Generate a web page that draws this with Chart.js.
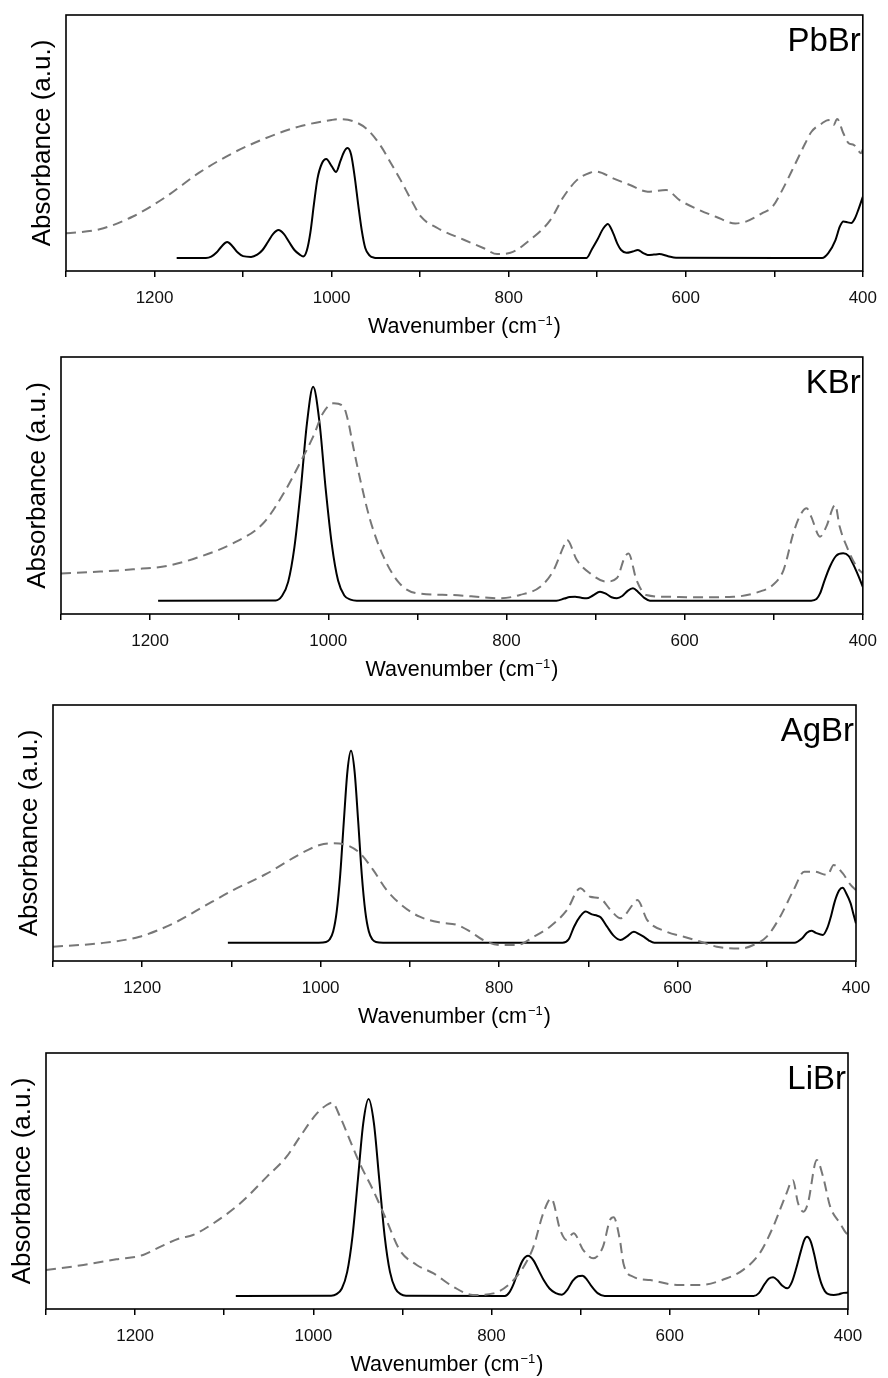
<!DOCTYPE html>
<html>
<head>
<meta charset="utf-8">
<script src="https://cdn.jsdelivr.net/npm/chart.js@4.4.1/dist/chart.umd.min.js"></script>
<style>
  html, body { margin: 0; padding: 0; background: #fff; }
  #wrap { position: relative; width: 888px; height: 1378px; overflow: hidden; }
  #wrap canvas { position: absolute; left: 0; }
</style>
</head>
<body>
<div id="wrap">
  <canvas id="pbbr" width="888" height="342" style="top:0px"></canvas>
  <canvas id="kbr" width="888" height="348" style="top:342px"></canvas>
  <canvas id="agbr" width="888" height="348" style="top:690px"></canvas>
  <canvas id="libr" width="888" height="340" style="top:1038px"></canvas>
</div>
<script>
// IR spectra, [wavenumber (cm-1), absorbance (a.u.)]
// solid = complex, dashed = reference salt

const pbbrSolid = [
  [1175,0.051],[1142,0.051],[1136,0.056],[1130,0.072],[1124,0.097],[1118,0.113],[1112,0.097],[1106,0.072],
  [1100,0.058],[1091,0.055],[1084,0.064],[1078,0.082],[1072,0.113],[1066,0.145],[1060,0.160],[1054,0.145],
  [1048,0.113],[1042,0.082],[1036,0.064],[1032,0.057],[1028,0.080],[1024,0.150],[1020,0.260],[1016,0.360],
  [1011,0.420],[1006,0.4375],[1000,0.410],[995,0.387],[990,0.430],[986,0.465],[982,0.480],[978,0.455],
  [974,0.370],[970,0.260],[966,0.160],[962,0.090],[957,0.060],[952,0.052],[948,0.051],
  [712,0.051],[706,0.085],[700,0.121],[693,0.167],[688,0.184],[682,0.148],[677,0.105],[673,0.082],
  [667,0.071],[660,0.076],[654,0.082],[648,0.070],[643,0.0625],[636,0.064],[630,0.066],[620,0.058],
  [611,0.052],[446,0.051],[439,0.070],[431,0.120],[426,0.173],[422,0.193],[417,0.190],[413,0.1875],
  [409,0.205],[405,0.240],[400,0.290]
];
const pbbrDashed = [
  [1300,0.147],[1262,0.163],[1225,0.212],[1187,0.290],[1150,0.383],[1112,0.460],[1075,0.518],[1037,0.564],
  [1000,0.590],[992,0.593],[974,0.583],[959,0.551],[944,0.486],[933,0.421],[922,0.355],[910,0.277],
  [899,0.212],[880,0.167],[850,0.121],[828,0.089],[813,0.066],[798,0.071],[776,0.121],[753,0.199],
  [738,0.290],[723,0.355],[708,0.384],[701,0.388],[682,0.362],[663,0.336],[643,0.310],[622,0.316],
  [607,0.277],[589,0.245],[566,0.212],[544,0.186],[532,0.193],[514,0.225],[502,0.251],[491,0.316],
  [476,0.421],[465,0.499],[458,0.544],[446,0.577],[439,0.590],[433,0.570],[429,0.594],[422,0.538],
  [416,0.499],[410,0.492],[405,0.470],[402,0.460],[400,0.475]
];

const kbrSolid = [
  [1191,0.052],[1059,0.053],[1052,0.070],[1045,0.125],[1038,0.260],[1031,0.480],[1024,0.740],[1017,0.884],
  [1010,0.750],[1003,0.490],[996,0.270],[989,0.130],[982,0.072],[975,0.056],[968,0.052],
  [744,0.052],[735,0.060],[729,0.066],[723,0.067],[716,0.063],[710,0.061],[703,0.072],[695,0.087],
  [688,0.078],[682,0.065],[676,0.061],[670,0.070],[664,0.090],[658,0.100],[652,0.085],[645,0.062],
  [639,0.052],[458,0.052],[452,0.058],[448,0.080],[443,0.130],[437,0.184],[430,0.226],[422,0.236],
  [416,0.226],[411,0.195],[407,0.165],[403,0.132],[400,0.106]
];
const kbrDashed = [
  [1300,0.158],[1256,0.165],[1219,0.174],[1181,0.187],[1144,0.223],[1107,0.275],[1073,0.353],[1050,0.470],
  [1032,0.586],[1017,0.690],[1006,0.781],[994,0.820],[983,0.807],[978,0.755],[972,0.651],[964,0.521],
  [953,0.366],[938,0.223],[920,0.119],[901,0.081],[863,0.074],[826,0.065],[807,0.061],[785,0.074],
  [762,0.106],[747,0.171],[736,0.262],[732,0.288],[721,0.210],[706,0.158],[688,0.126],[676,0.140],
  [667,0.223],[663,0.235],[654,0.132],[643,0.074],[620,0.067],[583,0.065],[545,0.067],[516,0.087],
  [501,0.113],[489,0.171],[478,0.314],[471,0.379],[463,0.411],[458,0.379],[448,0.301],[441,0.340],
  [431,0.424],[426,0.340],[418,0.262],[407,0.184],[400,0.158]
];

const agbrSolid = [
  [1104,0.0715],[1002,0.0715],[994,0.074],[990,0.084],[986,0.115],[982,0.194],[978,0.341],[974,0.548],
  [970,0.741],[966,0.821],[962,0.741],[958,0.548],[954,0.341],[950,0.194],[946,0.115],[942,0.084],
  [938,0.074],[930,0.0715],[729,0.0715],[722,0.085],[716,0.134],[709,0.175],[703,0.193],[696,0.182],
  [690,0.177],[686,0.170],[679,0.134],[672,0.100],[664,0.082],[657,0.095],[649,0.114],[643,0.105],
  [638,0.095],[632,0.080],[626,0.0715],[469,0.0715],[460,0.090],[455,0.110],[450,0.118],[445,0.110],
  [437,0.102],[432,0.130],[428,0.175],[424,0.230],[419,0.275],[415,0.286],[411,0.265],[406,0.225],
  [403,0.185],[400,0.147]
];
const agbrDashed = [
  [1300,0.056],[1248,0.069],[1203,0.095],[1165,0.147],[1135,0.205],[1098,0.277],[1061,0.340],[1023,0.418],
  [1001,0.453],[986,0.460],[971,0.453],[956,0.421],[941,0.355],[926,0.277],[907,0.212],[889,0.173],
  [866,0.150],[847,0.141],[832,0.114],[818,0.082],[799,0.0625],[780,0.0625],[761,0.095],[743,0.134],
  [724,0.199],[709,0.284],[698,0.251],[687,0.245],[675,0.199],[664,0.167],[649,0.225],[645,0.238],
  [634,0.160],[612,0.114],[593,0.095],[574,0.075],[556,0.056],[529,0.049],[515,0.0625],[500,0.095],
  [485,0.173],[470,0.277],[458,0.349],[447,0.349],[432,0.336],[425,0.375],[415,0.343],[406,0.297],
  [400,0.277]
];

const librSolid = [
  [1087,0.051],[980,0.052],[974,0.058],[968,0.080],[962,0.145],[956,0.286],[950,0.505],[944,0.725],
  [938,0.820],[932,0.725],[926,0.505],[920,0.286],[914,0.145],[908,0.080],[902,0.058],[896,0.052],
  [785,0.051],[780,0.065],[775,0.100],[770,0.150],[765,0.190],[759,0.208],[753,0.190],[747,0.150],
  [741,0.110],[735,0.080],[728,0.062],[721,0.056],[715,0.075],[709,0.110],[703,0.128],[698,0.130],
  [693,0.115],[687,0.085],[681,0.062],[673,0.051],[506,0.051],[500,0.062],[494,0.095],[489,0.118],
  [484,0.124],[479,0.112],[474,0.092],[468,0.081],[463,0.105],[458,0.160],[453,0.225],[449,0.270],
  [446,0.282],[442,0.265],[438,0.215],[434,0.150],[430,0.100],[426,0.070],[422,0.058],[416,0.055],
  [410,0.058],[405,0.063],[400,0.064]
];
const librDashed = [
  [1300,0.152],[1258,0.172],[1221,0.194],[1191,0.211],[1172,0.243],[1150,0.276],[1135,0.289],[1112,0.335],
  [1082,0.413],[1052,0.517],[1030,0.595],[1015,0.673],[996,0.764],[985,0.797],[979,0.806],[970,0.751],
  [959,0.660],[948,0.569],[933,0.465],[918,0.348],[903,0.230],[884,0.172],[865,0.139],[843,0.087],
  [821,0.055],[798,0.061],[779,0.100],[764,0.165],[753,0.243],[742,0.374],[733,0.432],[723,0.309],
  [716,0.270],[708,0.296],[697,0.230],[686,0.198],[675,0.243],[667,0.348],[663,0.358],[656,0.270],
  [652,0.178],[641,0.126],[622,0.113],[592,0.094],[566,0.094],[536,0.120],[518,0.152],[499,0.218],
  [484,0.321],[469,0.452],[462,0.504],[456,0.413],[450,0.380],[445,0.413],[435,0.582],[428,0.517],
  [420,0.400],[409,0.335],[402,0.296],[400,0.290]
];

const sampleNames = ['PbBr', 'KBr', 'AgBr', 'LiBr'];
const xTickLabels = [1200, 1000, 800, 600, 400];
const yAxisTitle = 'Absorbance (a.u.)';
const xAxisTitle = ['Wavenumber (cm', '\u22121', ')'];

const FONT = '"Liberation Sans", Arial, Helvetica, sans-serif';

// frame around the plot, sample name and the x-axis title with its superscript
const panelDecor = {
  id: 'panelDecor',
  afterDatasetsDraw(chart, args, opts) {
    const { ctx, chartArea: a } = chart;
    ctx.save();
    ctx.strokeStyle = '#000';
    ctx.lineWidth = 1.6;
    ctx.strokeRect(a.left, a.top, a.right - a.left, a.bottom - a.top);

    ctx.fillStyle = '#000';
    ctx.textBaseline = 'alphabetic';
    ctx.textAlign = 'right';
    ctx.font = '33px ' + FONT;
    ctx.fillText(opts.name, a.right - 2, a.top + 36);

    const big = '21.5px ' + FONT, small = '13px ' + FONT;
    ctx.font = big;
    const w1 = ctx.measureText(xAxisTitle[0]).width;
    const w3 = ctx.measureText(xAxisTitle[2]).width;
    ctx.font = small;
    const w2 = ctx.measureText(xAxisTitle[1]).width + 2;
    const total = w1 + w2 + w3;
    let x = (a.left + a.right) / 2 - total / 2;
    const y = a.bottom + 62;
    ctx.textAlign = 'left';
    ctx.font = big;
    ctx.fillText(xAxisTitle[0], x, y);
    x += w1 + 1;
    ctx.font = small;
    ctx.fillText(xAxisTitle[1], x, y - 8);
    x += w2 - 1;
    ctx.font = big;
    ctx.fillText(xAxisTitle[2], x, y);
    ctx.restore();
  }
};

const panels = [
  { canvas: 'pbbr', solid: pbbrSolid, dashed: pbbrDashed, left: 66, right: 868, xh: 71 },
  { canvas: 'kbr',  solid: kbrSolid,  dashed: kbrDashed,  left: 61, right: 863, xh: 76 },
  { canvas: 'agbr', solid: agbrSolid, dashed: agbrDashed, left: 53, right: 856, xh: 77 },
  { canvas: 'libr', solid: librSolid, dashed: librDashed, left: 46, right: 848, xh: 69 }
];

const toXY = arr => arr.map(([x, y]) => ({ x, y }));

panels.forEach((p, i) => {
  new Chart(document.getElementById(p.canvas), {
    type: 'line',
    data: {
      datasets: [
        {
          data: toXY(p.dashed),
          borderColor: '#777',
          borderWidth: 2,
          borderDash: [10, 6],
          pointRadius: 0,
          fill: false,
          cubicInterpolationMode: 'monotone'
        },
        {
          data: toXY(p.solid),
          borderColor: '#000',
          borderWidth: 2,
          pointRadius: 0,
          fill: false,
          cubicInterpolationMode: 'monotone'
        }
      ]
    },
    options: {
      responsive: false,
      animation: false,
      devicePixelRatio: 1,
      events: [],
      layout: { padding: { top: 15, right: 888 - p.right, bottom: 0, left: 0 } },
      plugins: {
        legend: { display: false },
        tooltip: { enabled: false },
        panelDecor: { name: sampleNames[i] }
      },
      scales: {
        x: {
          type: 'linear',
          min: 400,
          max: 1300,
          reverse: true,
          border: { display: false },
          grid: { display: true, drawOnChartArea: false, drawTicks: true, tickLength: 6, color: '#000', lineWidth: 1.5 },
          ticks: {
            stepSize: 100,
            autoSkip: false,
            maxRotation: 0,
            padding: 11,
            color: '#111',
            font: { family: FONT, size: 17 },
            callback: v => (xTickLabels.includes(v) ? String(v) : '')
          },
          afterFit: s => { s.height = p.xh; }
        },
        y: {
          min: 0,
          max: 1,
          border: { display: false },
          grid: { display: false },
          ticks: { display: false },
          title: {
            display: true,
            text: yAxisTitle,
            color: '#000',
            font: { family: FONT, size: 26 },
            padding: { top: p.left - 39.1, bottom: 0 }
          },
          afterFit: s => { s.width = p.left; }
        }
      }
    },
    plugins: [panelDecor]
  });
});
</script>
</body>
</html>
